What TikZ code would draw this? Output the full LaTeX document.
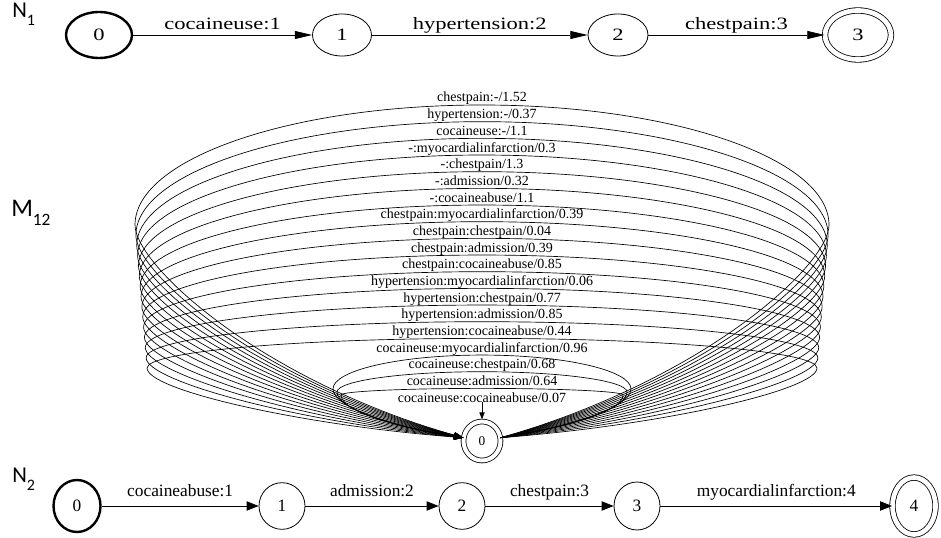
\documentclass[tikz,border=0pt]{standalone}
\usepackage{fontspec}
\setmainfont{Liberation Serif}
\newfontfamily\capfont{Carlito}
\usepackage{graphicx}
\usetikzlibrary{arrows.meta,shapes.geometric}
\newcommand{\wtext}[1]{\scalebox{1.3}[1]{#1}}
\newcommand{\bigfont}{\fontsize{13}{15}\selectfont}

\begin{document}
\begin{tikzpicture}[x=0.75pt,y=-0.75pt,
  state/.style={draw,ellipse,inner sep=0pt,line width=0.6pt,font=\bigfont},
  start/.style={state,line width=1.8pt},
  accept/.style={state,double,double distance=3.5pt},
  toparr/.style={-{Triangle[length=13pt,width=6pt]},line width=0.6pt},
  botarr/.style={-{Triangle[length=9pt,width=7pt]},line width=0.6pt},
  toplab/.style={midway,anchor=base,yshift=3.75pt,inner sep=0pt,font=\bigfont},
  botlab/.style={midway,anchor=base,yshift=7.5pt,inner sep=0pt,font=\bigfont},
  looplab/.style={anchor=base,inner sep=0pt,font=\fontsize{10.5}{12}\selectfont},
  looparr/.style={-{Triangle[length=7pt,width=4.5pt]},line width=0.5pt},
  rowname/.style={anchor=base west,inner sep=0pt}]
  \useasboundingbox (0,0) rectangle (941,538);

  % row names
  \node[rowname] (n1name) at (12,18) {\capfont\fontsize{17}{17}\selectfont N\raisebox{-6pt}{\fontsize{12}{12}\selectfont 1}};
  \node[rowname] (m12name) at (11,217) {\capfont\fontsize{19}{19}\selectfont M\raisebox{-6pt}{\fontsize{13}{13}\selectfont 12}};
  \node[rowname] (n2name) at (12,482) {\capfont\fontsize{17}{17}\selectfont N\raisebox{-6pt}{\fontsize{12}{12}\selectfont 2}};

  % N1
  \node[start,minimum width=49.5pt,minimum height=34.5pt] (t0) at (99,35) {\wtext{0}};
  \node[state,minimum width=44.25pt,minimum height=31.5pt] (t1) at (342,35) {\wtext{1}};
  \node[state,minimum width=45pt,minimum height=31.5pt] (t2) at (618,35) {\wtext{2}};
  \node[accept,minimum width=49.5pt,minimum height=36.75pt] (t3) at (858,35) {\wtext{3}};
  \draw[toparr] (t0) -- node[toplab] {\wtext{cocaineuse:1}} (t1);
  \draw[toparr] (t1) -- node[toplab] {\wtext{hypertension:2}} (t2);
  \draw[toparr] (t2) -- node[toplab] {\wtext{chestpain:3}} (t3);

  % M12
  \node[accept,double distance=3pt,minimum width=27.75pt,minimum height=29.25pt,
        font=\fontsize{10}{12}\selectfont] (m0) at (482,441) {0};
  \foreach \lhs/\val [count=\i from 0] in {chestpain:-/1.52,hypertension:-/0.37,
      cocaineuse:-/1.1,-:myocardialinfarction/0.3,-:chestpain/1.3,-:admission/0.32,
      -:cocaineabuse/1.1,chestpain:myocardialinfarction/0.39,chestpain:chestpain/0.04,
      chestpain:admission/0.39,chestpain:cocaineabuse/0.85,
      hypertension:myocardialinfarction/0.06,hypertension:chestpain/0.77,
      hypertension:admission/0.85,hypertension:cocaineabuse/0.44}{
    \pgfmathsetmacro{\k}{\i/14}
    \pgfmathsetmacro{\xl}{135+12*\k}
    \pgfmathsetmacro{\xr}{964-\xl}
    \pgfmathsetmacro{\yt}{105+16.67*\i}
    \pgfmathsetmacro{\ym}{225+143*\k}
    \pgfmathsetmacro{\yc}{\ym-0.552*(\ym-\yt)}
    \pgfmathsetmacro{\yd}{\ym+40-18*\k}
    \pgfmathsetmacro{\xa}{482-0.552*(482-\xl)}
    \pgfmathsetmacro{\xb}{964-\xa}
    \pgfmathsetmacro{\xc}{260+40*\k}
    \pgfmathsetmacro{\xd}{964-\xc}
    \pgfmathsetmacro{\yk}{380+45*\k}
    \node[looplab] (l\i) at (482,{102+16.67*\i}) {\lhs/\val};
    \draw[looparr] (m0.10) .. controls (\xd,\yk) and (\xr,\yd) .. (\xr,\ym)
      .. controls (\xr,\yc) and (\xb,\yt) .. (482,\yt)
      .. controls (\xa,\yt) and (\xl,\yc) .. (\xl,\ym)
      .. controls (\xl,\yd) and (\xc,\yk) .. (m0.170);
  }
  \foreach \lhs/\val [count=\j from 0] in {cocaineuse:myocardialinfarction/0.96,
      cocaineuse:chestpain/0.68,cocaineuse:admission/0.64}{
    \pgfmathtruncatemacro{\n}{\j+15}
    \pgfmathsetmacro{\xl}{333+4*\j}
    \pgfmathsetmacro{\xr}{964-\xl}
    \pgfmathsetmacro{\yt}{105+16.67*\n}
    \pgfmathsetmacro{\ym}{389+3*\j}
    \pgfmathsetmacro{\yc}{\ym-0.552*(\ym-\yt)}
    \pgfmathsetmacro{\yd}{\ym+0.4*(437-\ym)}
    \pgfmathsetmacro{\xa}{482-0.552*(482-\xl)}
    \pgfmathsetmacro{\xb}{964-\xa}
    \node[looplab] (l\n) at (482,{102+16.67*\n}) {\lhs/\val};
    \draw[looparr] (m0.10) .. controls (564,428) and (\xr,\yd) .. (\xr,\ym)
      .. controls (\xr,\yc) and (\xb,\yt) .. (482,\yt)
      .. controls (\xa,\yt) and (\xl,\yc) .. (\xl,\ym)
      .. controls (\xl,\yd) and (400,428) .. (m0.170);
  }
  \node[looplab] (l18) at (482,402) {cocaineuse:cocaineabuse/0.07};
  \draw[looparr,-{Triangle[length=5pt,width=4pt]},shorten >=1.5pt] (l18.south) -- (m0.north);

  % N2
  \node[start,minimum width=35.25pt,minimum height=39pt] (b0) at (77,506) {0};
  \node[state,minimum width=34.5pt,minimum height=35pt] (b1) at (282,506) {1};
  \node[state,minimum width=34.5pt,minimum height=35pt] (b2) at (462,506) {2};
  \node[state,minimum width=34.5pt,minimum height=36pt] (b3) at (637,506) {3};
  \node[accept,minimum width=32.25pt,minimum height=42.75pt] (b4) at (914,506) {4};
  \draw[botarr] (b0) -- node[botlab] {cocaineabuse:1} (b1);
  \draw[botarr] (b1) -- node[botlab] {admission:2} (b2);
  \draw[botarr] (b2) -- node[botlab] {chestpain:3} (b3);
  \draw[botarr] (b3) -- node[botlab] {myocardialinfarction:4} (b4);
\end{tikzpicture}
\end{document}
